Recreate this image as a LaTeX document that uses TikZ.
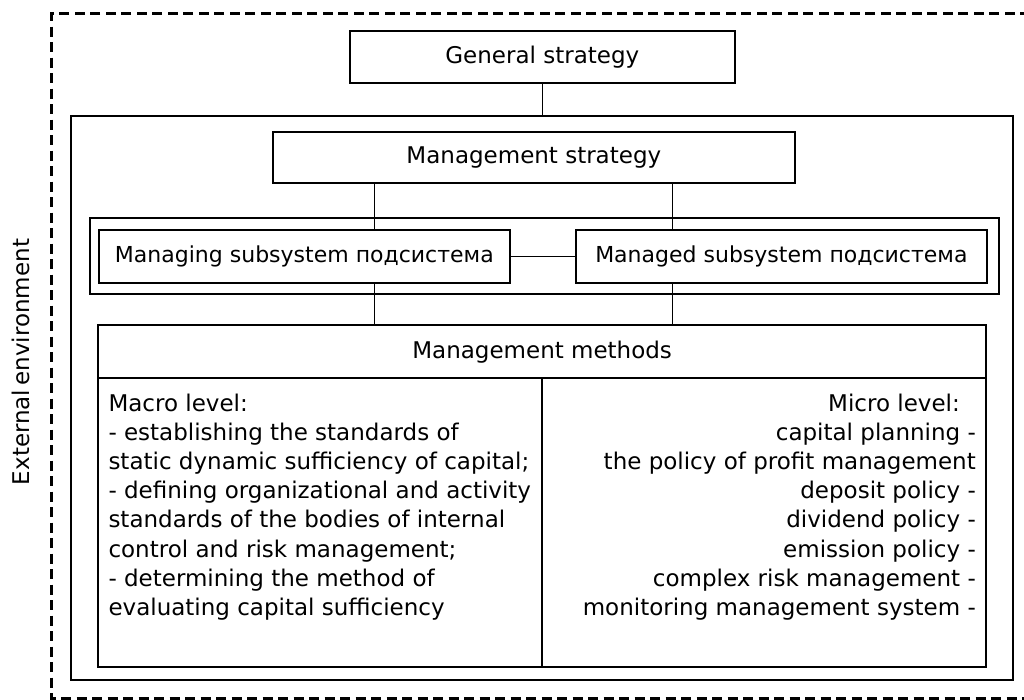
\documentclass[tikz,border=0pt]{standalone}
\usepackage{fontspec}
\setmainfont{DejaVu Sans}
\begin{document}
\begin{tikzpicture}[x=1pt,y=-1pt,
  box/.style={draw, line width=2pt, inner sep=0pt},
  conn/.style={line width=1.5pt},
  txt/.style={font=\fontsize{23}{27}\selectfont, inner sep=0pt},
  stxt/.style={font=\fontsize{22}{27}\selectfont, inner sep=0pt}]
\useasboundingbox (0,0) rectangle (1024,699);
\draw[line width=3pt, dash pattern=on 10pt off 5.5pt] (1030,13.5) -- (51,13.5) -- (51,698.5) -- (1030,698.5);
\node[txt, rotate=90] (ext) at (21,362) {External\hspace{-3pt} environment};
\node[box, txt, minimum width=384.7pt, minimum height=52.6pt] (gs) at (542.35,57) {General strategy};
\node[box, minimum width=941.7pt, minimum height=564.3pt] (inner) at (541.85,397.85) {};
\node[box, txt, minimum width=522.3pt, minimum height=51pt] (ms) at (533.85,157.5) {Management strategy};
\node[box, minimum width=909.3pt, minimum height=75.7pt] (subs) at (544.65,256.15) {};
\node[box, stxt, minimum width=411.3pt, minimum height=52.7pt] (managing) at (304.35,256.35) {Managing subsystem подсистема};
\node[box, stxt, minimum width=410.7pt, minimum height=52.7pt] (managed) at (781.35,256.35) {Managed subsystem подсистема};
\node[box, txt, minimum width=887.7pt, minimum height=53.3pt] (methods) at (542.15,351.65) {Management methods};
\node[box, minimum width=443.4pt, minimum height=289pt] (lcell) at (320,522.8) {};
\node[box, minimum width=444.3pt, minimum height=289pt] (rcell) at (763.85,522.8) {};
\coordinate (xa) at (374.3,0);
\coordinate (xb) at (672.3,0);
\draw[conn] (gs.south) -- (gs.south |- inner.north);
\draw[conn] (ms.south -| xa) -- (managing.north -| xa);
\draw[conn] (ms.south -| xb) -- (managed.north -| xb);
\draw[conn] (managing.east) -- (managed.west);
\draw[conn] (managing.south -| xa) -- (methods.north -| xa);
\draw[conn] (managed.south -| xb) -- (methods.north -| xb);
\foreach \t [count=\i from 0] in {Macro level:,- establishing the standards of,static dynamic sufficiency of capital;,- defining organizational and activity,standards of the bodies of internal,control and risk management;,- determining the method of,evaluating capital sufficiency}
  \node[txt, anchor=base west] (L\i) at (108.3,411+29.2*\i) {\t};
\node[txt, anchor=base east] (R0) at (960,411) {Micro level:};
\foreach \t [count=\i from 1] in {capital planning -,the policy of profit management,deposit policy -,dividend policy -,emission policy -,complex risk management -,monitoring management system -}
  \node[txt, anchor=base east] (R\i) at (976,411+29.2*\i) {\t};
\end{tikzpicture}
\end{document}
